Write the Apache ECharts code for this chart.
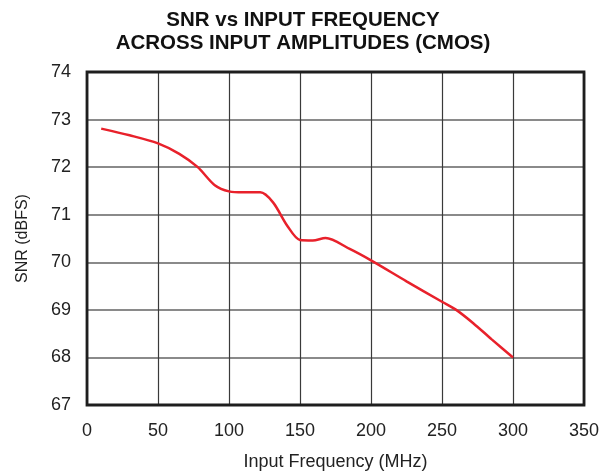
<!DOCTYPE html>
<html>
<head>
<meta charset="utf-8">
<script src="https://cdn.jsdelivr.net/npm/echarts@6/dist/echarts.min.js"></script>
<style>html,body{margin:0;padding:0;background:#fff;}#c{width:606px;height:476px;}</style>
</head>
<body>
<div id="c"></div>
<script>
const titleLines = ['SNR vs INPUT FREQUENCY', 'ACROSS INPUT AMPLITUDES (CMOS)'];
const xName = 'Input Frequency (MHz)';
const yName = 'SNR (dBFS)';
const freqMHz = [10, 30, 50, 65, 78, 90, 100, 110, 122, 131, 141, 150, 159, 168, 185, 200, 225, 250, 260, 272, 285, 300];
const snrDbfs = [72.81, 72.67, 72.5, 72.28, 72.0, 71.62, 71.49, 71.47, 71.47, 71.26, 70.77, 70.47, 70.46, 70.51, 70.28, 70.04, 69.6, 69.17, 69.0, 68.72, 68.38, 68.0];

const chart = echarts.init(document.getElementById('c'), null, {renderer: 'canvas'});
const font = 'Liberation Sans, Arial, Helvetica, sans-serif';
chart.setOption({
  animation: false,
  backgroundColor: '#fff',
  title: {
    text: titleLines.join('\n'),
    left: 'center',
    top: 4,
    textStyle: {fontFamily: font, fontWeight: 'bold', fontSize: 20.5, color: '#111', lineHeight: 23}
  },
  grid: {left: 87, right: 22, top: 72, bottom: 69, show: true, borderColor: '#1e1e1e', borderWidth: 2.8, backgroundColor: 'transparent', z: 3},
  xAxis: {
    type: 'value', min: 0, max: 350, interval: 50,
    name: xName, nameLocation: 'middle', nameGap: 48,
    nameTextStyle: {fontFamily: font, fontSize: 18, color: '#222'},
    axisLine: {show: false}, axisTick: {show: false},
    axisLabel: {fontFamily: font, fontSize: 18, color: '#222', margin: 17},
    splitLine: {show: true, lineStyle: {color: '#3a3a3a', width: 1.2}}
  },
  yAxis: {
    type: 'value', min: 67, max: 74, interval: 1,
    name: yName, nameLocation: 'middle', nameGap: 56,
    nameTextStyle: {fontFamily: font, fontSize: 16, color: '#222'},
    axisLine: {show: false}, axisTick: {show: false},
    axisLabel: {fontFamily: font, fontSize: 18, color: '#222', margin: 16},
    splitLine: {show: true, lineStyle: {color: '#8a8a8a', width: 2}}
  },
  series: [{
    type: 'line',
    data: freqMHz.map((f, i) => [f, snrDbfs[i]]),
    smooth: 0.3,
    showSymbol: false,
    lineStyle: {color: '#e8212b', width: 2.5}
  }]
});
</script>
</body>
</html>
